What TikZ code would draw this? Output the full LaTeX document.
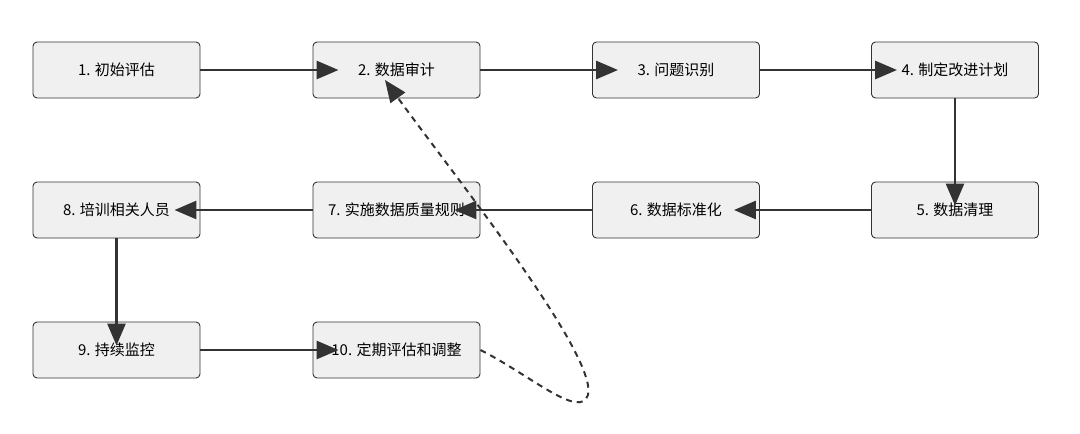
\documentclass[tikz,border=0pt]{standalone}
\usepackage{fontspec}
\setmainfont{Noto Sans CJK SC}
\usetikzlibrary{arrows.meta}
\begin{document}
\begin{tikzpicture}[x=1pt,y=-1pt,
  box/.style={draw=black!80,fill=black!6,rounded corners=4pt,minimum width=167pt,minimum height=56pt,inner sep=0pt,font=\fontsize{15}{17}\selectfont,line width=0.9pt},
  arr/.style={draw=black!80,line width=2.8pt,-{Triangle[length=22pt,width=18pt]},shorten >=-26pt},
  dsh/.style={draw=black!80,line width=2pt,dash pattern=on 6pt off 5pt,-{Triangle[length=22pt,width=18pt]}}]
\useasboundingbox (0,0) rectangle (1080,434);
\node[box] (n1) at (116.5,70) {1. 初始评估};
\node[box] (n2) at (396.5,70) {2. 数据审计};
\node[box] (n3) at (676,70) {3. 问题识别};
\node[box] (n4) at (955,70) {4. 制定改进计划};
\node[box] (n5) at (955,210) {5. 数据清理};
\node[box] (n6) at (676,210) {6. 数据标准化};
\node[box] (n7) at (396.5,210) {7. 实施数据质量规则};
\node[box] (n8) at (116.5,210) {8. 培训相关人员};
\node[box] (n9) at (116.5,350) {9. 持续监控};
\node[box] (n10) at (396.5,350) {10. 定期评估和调整};
\coordinate (t2) at (385,80);
\draw[arr] (n1) -- (n2);
\draw[arr] (n2) -- (n3);
\draw[arr] (n3) -- (n4);
\draw[arr,shorten >=-24pt] (n4) -- (n5);
\draw[arr] (n5) -- (n6);
\draw[arr] (n6) -- (n7);
\draw[arr] (n7) -- (n8);
\draw[arr,shorten >=-24pt] (n8) -- (n9);
\draw[arr] (n9) -- (n10);
\draw[dsh] (n10.east) .. controls (530,375) and (580,420) .. (588,395) .. controls (598,355) and (450,170) .. (t2);
\end{tikzpicture}
\end{document}
